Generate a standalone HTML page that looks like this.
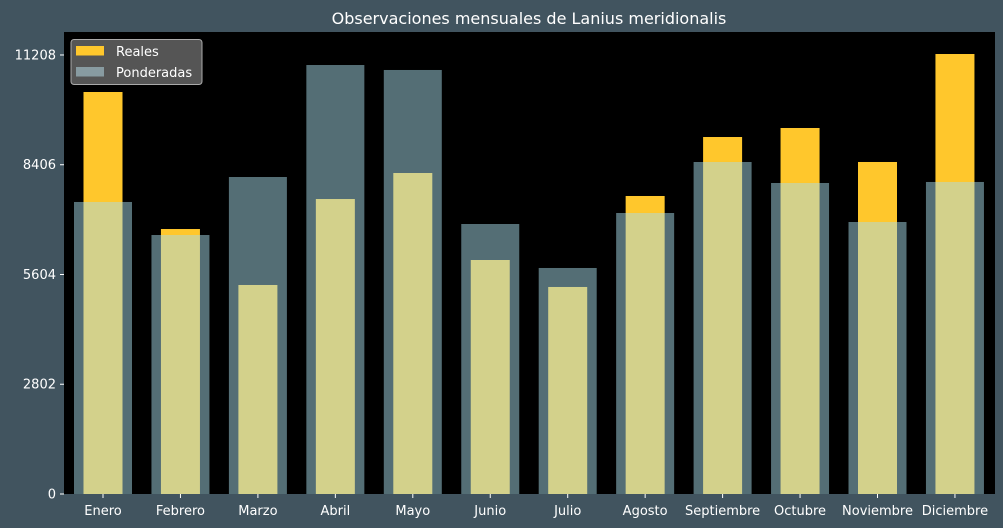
<!DOCTYPE html>
<html><head><meta charset="utf-8"><style>
html,body{margin:0;padding:0;width:1003px;height:528px;overflow:hidden;background:#41545f;}
svg{display:block;}
svg text{font-family:"DejaVu Sans","Liberation Sans",sans-serif;}
</style></head><body>
<svg id="c" width="1003" height="528" xmlns="http://www.w3.org/2000/svg">
<rect width="1003" height="528" fill="#41545f"/>
<text x="529" y="24" fill="#fff" font-size="16" text-anchor="middle">Observaciones mensuales de Lanius meridionalis</text>
<rect x="64" y="32" width="931" height="462" fill="#000"/>
<g id="bars"></g>
<g id="axes"></g>
<g>
<rect x="71" y="39.5" width="131" height="45" rx="3" fill="#555" stroke="#aaa" stroke-width="1"/>
<rect x="76" y="46" width="28" height="9.5" fill="#ffc72c"/>
<text x="116" y="56" fill="#fff" font-size="13">Reales</text>
<rect x="76" y="67" width="28" height="9.5" fill="#889ba1"/>
<text x="116" y="77" fill="#fff" font-size="13">Ponderadas</text>
</g>
</svg>
<script>
const categories=["Enero","Febrero","Marzo","Abril","Mayo","Junio","Julio","Agosto","Septiembre","Octubre","Noviembre","Diciembre"];
const reales=[10263,6765,5336,7531,8195,5974,5285,7608,9114,9344,8476,11233];
const ponderadas=[7455,6612,8093,10952,10825,6893,5770,7174,8476,7940,6944,7966];
const yTicks=[0,2802,5604,8406,11208];
const NS="http://www.w3.org/2000/svg";
const y=v=>494-v*0.039170;
const x=i=>103+i*77.45;
const bars=document.getElementById('bars'),axes=document.getElementById('axes');
function mk(t,a,p){const e=document.createElementNS(NS,t);for(const k in a)e.setAttribute(k,a[k]);p.appendChild(e);return e;}
reales.forEach((v,i)=>{const r=mk('rect',{x:x(i)-19.5,y:y(v),width:39,height:494-y(v),fill:'#ffc72c'},bars);

});
ponderadas.forEach((v,i)=>{const r=mk('rect',{x:x(i)-29,y:y(v),width:58,height:494-y(v),fill:'rgba(168,220,234,0.5)'},bars);

});
yTicks.forEach(t=>{const l=mk('line',{x1:60,x2:64,y1:y(t),y2:y(t),stroke:'#fff'},axes);


const tx=mk('text',{x:56,y:y(t)+4.5,fill:'#fff','font-size':13,'text-anchor':'end'},axes);tx.textContent=t;

});
categories.forEach((c,i)=>{const l=mk('line',{x1:x(i),x2:x(i),y1:494,y2:498,stroke:'#fff'},axes);


const tx=mk('text',{x:x(i),y:515,fill:'#fff','font-size':13,'text-anchor':'middle'},axes);tx.textContent=c;

});
</script>
</body></html>
